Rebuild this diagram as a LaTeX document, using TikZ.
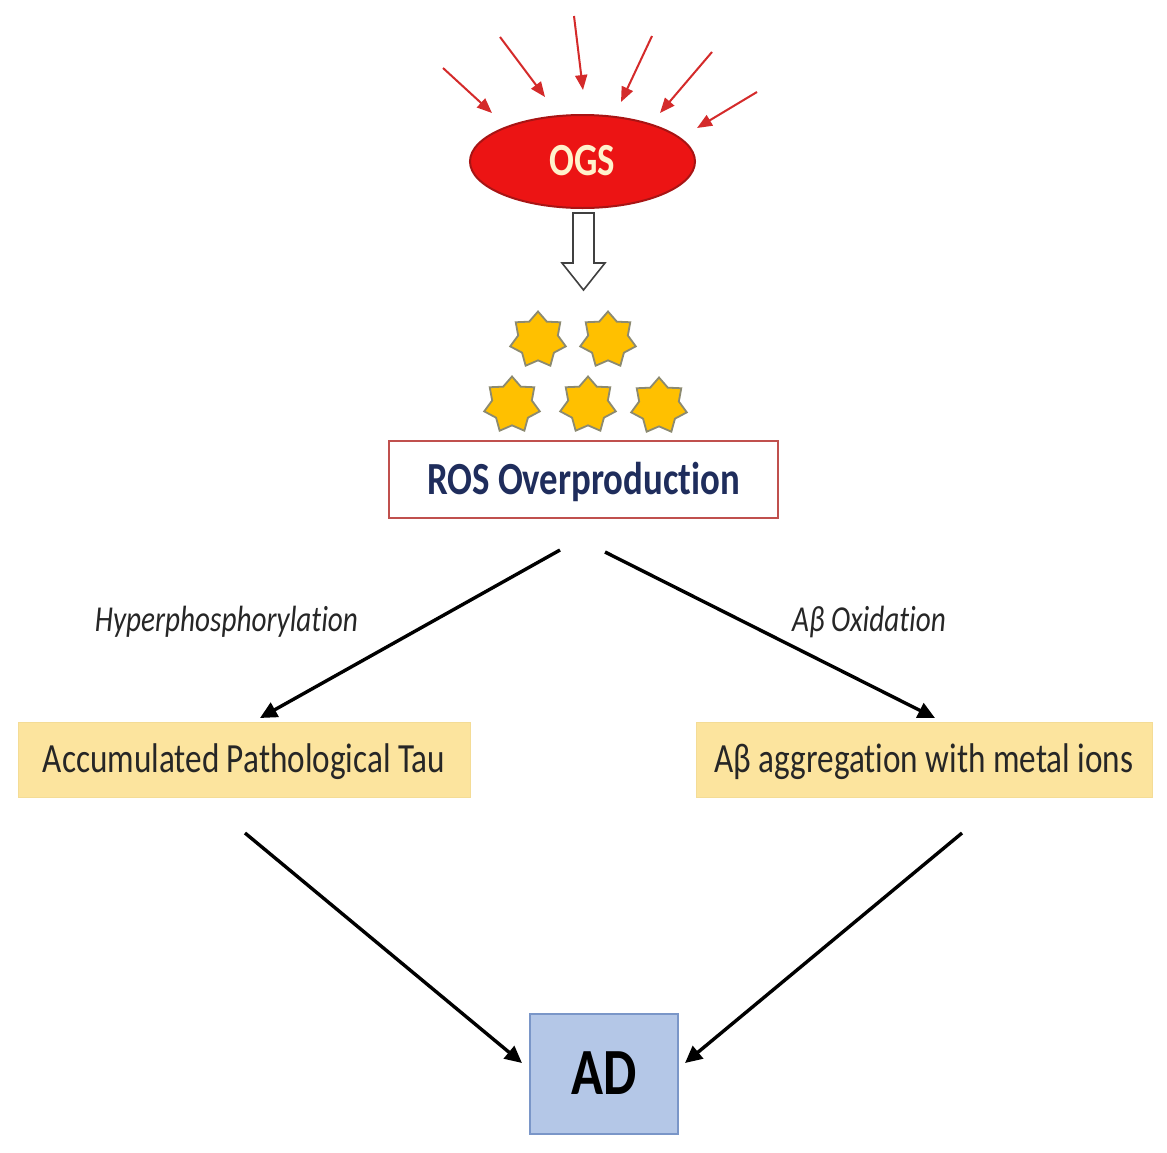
\documentclass[tikz,border=0pt]{standalone}
\usepackage{fontspec}
\setmainfont{Carlito}[FakeStretch=0.8, Ligatures={NoCommon,NoContextual}, RawFeature={-liga;-clig;-dlig}]
\usetikzlibrary{shapes.geometric,arrows.meta,calc}
\definecolor{ogsred}{HTML}{EC1414}
\definecolor{ogsborder}{HTML}{A81414}
\definecolor{ogstext}{HTML}{FFF2CC}
\definecolor{rayred}{HTML}{D42A2A}
\definecolor{starfill}{HTML}{FFC000}
\definecolor{starline}{HTML}{8C8A70}
\definecolor{rosline}{HTML}{C0504D}
\definecolor{rostext}{HTML}{1F2D5C}
\definecolor{goldbox}{HTML}{FCE49E}
\definecolor{goldline}{HTML}{F4DC96}
\definecolor{adfill}{HTML}{B4C7E7}
\definecolor{adline}{HTML}{7A96C8}
\tikzset{
  ogsnode/.style={ellipse, draw=ogsborder, line width=2pt, fill=ogsred, text=ogstext,
    minimum width=225pt, minimum height=93pt, inner sep=0pt,
    font=\bfseries\fontsize{46}{55}\selectfont, text height=28.5pt, text depth=0pt},
  ray/.style={draw=rayred, line width=2pt, -{Triangle[length=15pt,width=12pt]}},
  hollowarrow/.style={draw=black!75, line width=1.6pt, fill=white, line join=miter},
  rosstar/.style={star, star points=7, star point ratio=1.4, minimum size=57pt,
    inner sep=0pt, fill=starfill, draw=starline, line width=1.8pt},
  rosbox/.style={rectangle, draw=rosline, line width=1.6pt, fill=white, text=rostext,
    minimum width=389pt, minimum height=77pt, inner sep=0pt,
    font=\bfseries\fontsize{46}{55}\selectfont, text height=29pt, text depth=0pt},
  goldnode/.style={rectangle, fill=goldbox, draw=goldline, line width=0.8pt,
    minimum height=75pt, inner sep=0pt, text=black!85,
    font=\fontsize{41.5}{50}\selectfont, text height=26.2pt, text depth=0pt},
  labelnode/.style={inner sep=0pt, text=black!85,
    font=\itshape\fontsize{36.5}{44}\selectfont, text height=23pt, text depth=0pt},
  adnode/.style={rectangle, fill=adfill, draw=adline, line width=2pt,
    minimum width=148pt, minimum height=120pt, inner sep=0pt, text=black,
    font=\bfseries\fontsize{66}{79}\selectfont, text height=41.7pt, text depth=0pt},
  flow/.style={draw=black, line width=3.4pt, -{Triangle[length=17pt,width=16pt]}}
}
\begin{document}
\begin{tikzpicture}[x=1pt,y=-1pt]
\useasboundingbox (0,0) rectangle (1167,1152);
\fill[white] (0,0) rectangle (1167,1152);

% OGS ellipse
\node[ogsnode] (ogs) at (582.5,161.5) {OGS};

% incoming red rays
\coordinate (ra1) at (443,68);  \coordinate (rb1) at (492,113);
\coordinate (ra2) at (500,37);  \coordinate (rb2) at (545,97);
\coordinate (ra3) at (574,16);  \coordinate (rb3) at (583,90);
\coordinate (ra4) at (652,36);  \coordinate (rb4) at (621,102);
\coordinate (ra5) at (712,52);  \coordinate (rb5) at (660,113);
\coordinate (ra6) at (757,92);  \coordinate (rb6) at (697,128);
\foreach \i in {1,...,6} \draw[ray] (ra\i) -- (rb\i);

% hollow block arrow from OGS towards the ROS stars
\draw[hollowarrow] (573,213) -- (594,213) -- (594,263) -- (605,263)
  -- (583.5,290) -- (562,263) -- (573,263) -- cycle;

% stars
\node[rosstar] (st1) at (538,340) {};
\node[rosstar] (st2) at (608,340) {};
\node[rosstar] (st3) at (512,405) {};
\node[rosstar] (st4) at (588,405) {};
\node[rosstar] (st5) at (659,406) {};

% ROS box
\node[rosbox] (ros) at (583.5,479.5) {ROS Overproduction};

% branch labels
\node[labelnode] (hyp) at (226.5,620) {Hyperphosphorylation};
\node[labelnode] (abox) at (869,620) {Aβ Oxidation};

% middle boxes
\node[goldnode, minimum width=452pt] (tau) at (244,759.5) {Accumulated Pathological Tau};
\node[goldnode, minimum width=456pt] (abeta) at (924,759.5) {Aβ aggregation with metal ions};

% AD box
\node[adnode] (ad) at (604,1074) {AD\hspace{9pt}};

% connectors
\coordinate (ls) at (560,550);  \coordinate (le) at (260,718);
\coordinate (rs) at (605,552);  \coordinate (re) at (935,718);
\coordinate (lls) at (245,833); \coordinate (lle) at (522,1063);
\coordinate (rrs) at (962,833); \coordinate (rre) at (685,1063);
\draw[flow] (ls) -- (le);
\draw[flow] (rs) -- (re);
\draw[flow] (lls) -- (lle);
\draw[flow] (rrs) -- (rre);
\end{tikzpicture}
\end{document}
